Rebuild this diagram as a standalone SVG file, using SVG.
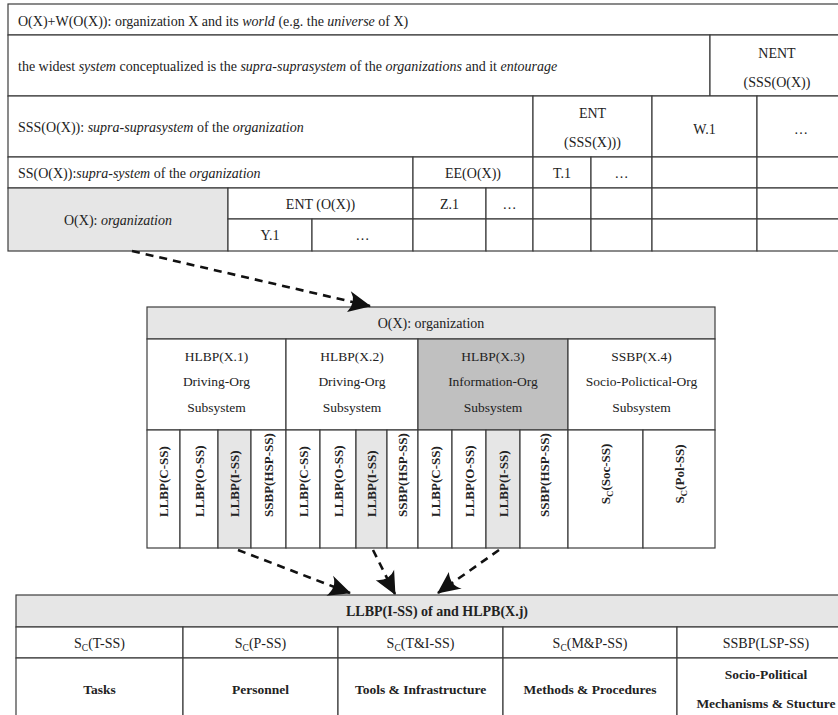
<svg xmlns="http://www.w3.org/2000/svg" width="838" height="715" viewBox="0 0 838 715">
  <style>
    .cell { fill: #ffffff; stroke: #3c3c3c; stroke-width: 1.2; }
    .lt { fill: #e6e6e6; }
    .dk { fill: #c0c0c0; }
    text { font-family: "Liberation Serif", "Times New Roman", serif; fill: #222; }
    .t14 { font-size: 14px; }
    .t13 { font-size: 13.5px; }
    .c { text-anchor: middle; }
    .b { font-weight: bold; }
    .v { font-size: 13px; font-weight: bold; }
    .link { fill: none; stroke: #111; stroke-width: 2.6; stroke-dasharray: 8 6; }
  </style>
  <defs>
    <marker id="head" viewBox="-24 -12 26 24" refX="0" refY="0" markerWidth="26" markerHeight="24" markerUnits="userSpaceOnUse" orient="auto">
      <path d="M1,0 L-22,-10 Q-14,-1 -21,11 Z" fill="#111"/>
    </marker>
  </defs>

  <!-- Organization X and its world: nested system table -->
  <g id="world-table">
    <rect class="cell" x="8" y="4" width="838" height="31"/>
    <rect class="cell" x="8" y="35" width="702" height="61"/>
    <rect class="cell" x="710" y="35" width="136" height="61"/>
    <rect class="cell" x="8" y="96" width="525" height="61"/>
    <rect class="cell" x="533" y="96" width="119" height="61"/>
    <rect class="cell" x="652" y="96" width="105" height="61"/>
    <rect class="cell" x="757" y="96" width="89" height="61"/>
    <rect class="cell" x="8" y="157" width="405" height="31"/>
    <rect class="cell" x="413" y="157" width="120" height="31"/>
    <rect class="cell" x="533" y="157" width="58" height="31"/>
    <rect class="cell" x="591" y="157" width="61" height="31"/>
    <rect class="cell" x="652" y="157" width="105" height="31"/>
    <rect class="cell" x="757" y="157" width="89" height="31"/>
    <rect class="cell lt" x="8" y="188" width="220" height="63"/>
    <rect class="cell" x="228" y="188" width="185" height="31"/>
    <rect class="cell" x="413" y="188" width="73" height="31"/>
    <rect class="cell" x="486" y="188" width="47" height="31"/>
    <rect class="cell" x="533" y="188" width="58" height="31"/>
    <rect class="cell" x="591" y="188" width="61" height="31"/>
    <rect class="cell" x="652" y="188" width="105" height="31"/>
    <rect class="cell" x="757" y="188" width="89" height="31"/>
    <rect class="cell" x="228" y="219" width="84" height="32"/>
    <rect class="cell" x="312" y="219" width="101" height="32"/>
    <rect class="cell" x="413" y="219" width="73" height="32"/>
    <rect class="cell" x="486" y="219" width="47" height="32"/>
    <rect class="cell" x="533" y="219" width="58" height="32"/>
    <rect class="cell" x="591" y="219" width="61" height="32"/>
    <rect class="cell" x="652" y="219" width="105" height="32"/>
    <rect class="cell" x="757" y="219" width="89" height="32"/>

    <text class="t14" x="18" y="25.5">O(X)+W(O(X)): organization X and its <tspan font-style="italic">world</tspan> (e.g. the <tspan font-style="italic">universe</tspan> of X)</text>
    <text class="t14" x="18" y="71">the widest <tspan font-style="italic">system</tspan> conceptualized is the <tspan font-style="italic">supra-suprasystem</tspan> of the <tspan font-style="italic">organizations</tspan> and it <tspan font-style="italic">entourage</tspan></text>
    <text class="t14 c" x="777" y="58">NENT</text>
    <text class="t14 c" x="777" y="87">(SSS(O(X))</text>
    <text class="t14" x="18" y="132">SSS(O(X)): <tspan font-style="italic">supra-suprasystem</tspan> of the <tspan font-style="italic">organization</tspan></text>
    <text class="t14 c" x="592.5" y="118">ENT</text>
    <text class="t14 c" x="592.5" y="147">(SSS(X)))</text>
    <text class="t14 c" x="704.5" y="134">W.1</text>
    <text class="t14 c" x="801" y="134">…</text>
    <text class="t14" x="18" y="177.5">SS(O(X)):<tspan font-style="italic">supra-system</tspan> of the <tspan font-style="italic">organization</tspan></text>
    <text class="t14 c" x="473" y="177.5">EE(O(X))</text>
    <text class="t14 c" x="562" y="177.5">T.1</text>
    <text class="t14 c" x="621.5" y="177.5">…</text>
    <text class="t14 c" x="118" y="224.5">O(X): <tspan font-style="italic">organization</tspan></text>
    <text class="t14 c" x="320.5" y="208.5">ENT (O(X))</text>
    <text class="t14 c" x="449.5" y="208.5">Z.1</text>
    <text class="t14 c" x="509.5" y="208.5">…</text>
    <text class="t14 c" x="270" y="240">Y.1</text>
    <text class="t14 c" x="362.5" y="240">…</text>
  </g>

  <!-- O(X): organization broken into business-process subsystems -->
  <g id="organization-table">
    <rect class="cell lt" x="147" y="307" width="568" height="32"/>
    <rect class="cell" x="147" y="339" width="139" height="91"/>
    <rect class="cell" x="286" y="339" width="132" height="91"/>
    <rect class="cell dk" x="418" y="339" width="150" height="91"/>
    <rect class="cell" x="568" y="339" width="147" height="91"/>
    <rect class="cell" x="147" y="430" width="33" height="118"/>
    <rect class="cell" x="180" y="430" width="38" height="118"/>
    <rect class="cell lt" x="218" y="430" width="33" height="118"/>
    <rect class="cell" x="251" y="430" width="35" height="118"/>
    <rect class="cell" x="286" y="430" width="34" height="118"/>
    <rect class="cell" x="320" y="430" width="36" height="118"/>
    <rect class="cell lt" x="356" y="430" width="31" height="118"/>
    <rect class="cell" x="387" y="430" width="31" height="118"/>
    <rect class="cell" x="418" y="430" width="34" height="118"/>
    <rect class="cell" x="452" y="430" width="34" height="118"/>
    <rect class="cell lt" x="486" y="430" width="34" height="118"/>
    <rect class="cell" x="520" y="430" width="48" height="118"/>
    <rect class="cell" x="568" y="430" width="75" height="118"/>
    <rect class="cell" x="643" y="430" width="72" height="118"/>

    <text class="t14 c" x="431" y="328">O(X): organization</text>
    <text class="t13 c" x="216.5" y="360.5">HLBP(X.1)</text>
    <text class="t13 c" x="216.5" y="386">Driving-Org</text>
    <text class="t13 c" x="216.5" y="411.5">Subsystem</text>
    <text class="t13 c" x="352" y="360.5">HLBP(X.2)</text>
    <text class="t13 c" x="352" y="386">Driving-Org</text>
    <text class="t13 c" x="352" y="411.5">Subsystem</text>
    <text class="t13 c" x="493" y="360.5">HLBP(X.3)</text>
    <text class="t13 c" x="493" y="386">Information-Org</text>
    <text class="t13 c" x="493" y="411.5">Subsystem</text>
    <text class="t13 c" x="641.5" y="360.5">SSBP(X.4)</text>
    <text class="t13 c" x="641.5" y="386">Socio-Polictical-Org</text>
    <text class="t13 c" x="641.5" y="411.5">Subsystem</text>

    <!-- vertical column labels, read bottom to top -->
    <text class="v" transform="translate(168,517) rotate(-90)">LLBP(C-SS)</text>
    <text class="v" transform="translate(203.5,517) rotate(-90)">LLBP(O-SS)</text>
    <text class="v" transform="translate(239,517) rotate(-90)">LLBP(I-SS)</text>
    <text class="v" transform="translate(273,517) rotate(-90)">SSBP(HSP-SS)</text>
    <text class="v" transform="translate(307.5,517) rotate(-90)">LLBP(C-SS)</text>
    <text class="v" transform="translate(342.5,517) rotate(-90)">LLBP(O-SS)</text>
    <text class="v" transform="translate(376,517) rotate(-90)">LLBP(I-SS)</text>
    <text class="v" transform="translate(407,517) rotate(-90)">SSBP(HSP-SS)</text>
    <text class="v" transform="translate(439.5,517) rotate(-90)">LLBP(C-SS)</text>
    <text class="v" transform="translate(473.5,517) rotate(-90)">LLBP(O-SS)</text>
    <text class="v" transform="translate(507.5,517) rotate(-90)">LLBP(I-SS)</text>
    <text class="v" transform="translate(548.5,517) rotate(-90)">SSBP(HSP-SS)</text>
    <text class="v c" transform="translate(610,474) rotate(-90)">S<tspan font-size="9" dy="3">C</tspan><tspan dy="-3">(Soc-SS)</tspan></text>
    <text class="v c" transform="translate(683.5,474) rotate(-90)">S<tspan font-size="9" dy="3">C</tspan><tspan dy="-3">(Pol-SS)</tspan></text>
  </g>

  <!-- LLBP(I-SS) decomposition -->
  <g id="llbp-table">
    <rect class="cell lt" x="16" y="595" width="841" height="32"/>
    <rect class="cell" x="16" y="627" width="167" height="31"/>
    <rect class="cell" x="183" y="627" width="155" height="31"/>
    <rect class="cell" x="338" y="627" width="165" height="31"/>
    <rect class="cell" x="503" y="627" width="174" height="31"/>
    <rect class="cell" x="677" y="627" width="180" height="31"/>
    <rect class="cell" x="16" y="658" width="167" height="70"/>
    <rect class="cell" x="183" y="658" width="155" height="70"/>
    <rect class="cell" x="338" y="658" width="165" height="70"/>
    <rect class="cell" x="503" y="658" width="174" height="70"/>
    <rect class="cell" x="677" y="658" width="180" height="70"/>

    <text class="t14 c b" x="437" y="616">LLBP(I-SS) of and HLPB(X.j)</text>
    <text class="t14 c" x="99.5" y="647.5">S<tspan font-size="9.5" dy="3">C</tspan><tspan dy="-3">(T-SS)</tspan></text>
    <text class="t14 c" x="260.5" y="647.5">S<tspan font-size="9.5" dy="3">C</tspan><tspan dy="-3">(P-SS)</tspan></text>
    <text class="t14 c" x="420.5" y="647.5">S<tspan font-size="9.5" dy="3">C</tspan><tspan dy="-3">(T&amp;I-SS)</tspan></text>
    <text class="t14 c" x="590" y="647.5">S<tspan font-size="9.5" dy="3">C</tspan><tspan dy="-3">(M&amp;P-SS)</tspan></text>
    <text class="t14 c" x="766" y="647.5">SSBP(LSP-SS)</text>
    <text class="t13 c b" x="99.5" y="694">Tasks</text>
    <text class="t13 c b" x="260.5" y="694">Personnel</text>
    <text class="t13 c b" x="420.5" y="694">Tools &amp; Infrastructure</text>
    <text class="t13 c b" x="590" y="694">Methods &amp; Procedures</text>
    <text class="t13 c b" x="766" y="679">Socio-Political</text>
    <text class="t13 c b" x="766" y="708">Mechanisms &amp; Stucture</text>
  </g>

  <!-- dashed drill-down connectors -->
  <g id="connectors">
    <path class="link" d="M132,251 L370,306" marker-end="url(#head)"/>
    <path class="link" d="M238,550 L350,593" marker-end="url(#head)"/>
    <path class="link" d="M373,550 L395,594" marker-end="url(#head)"/>
    <path class="link" d="M499,550 L438,593" marker-end="url(#head)"/>
  </g>
</svg>
